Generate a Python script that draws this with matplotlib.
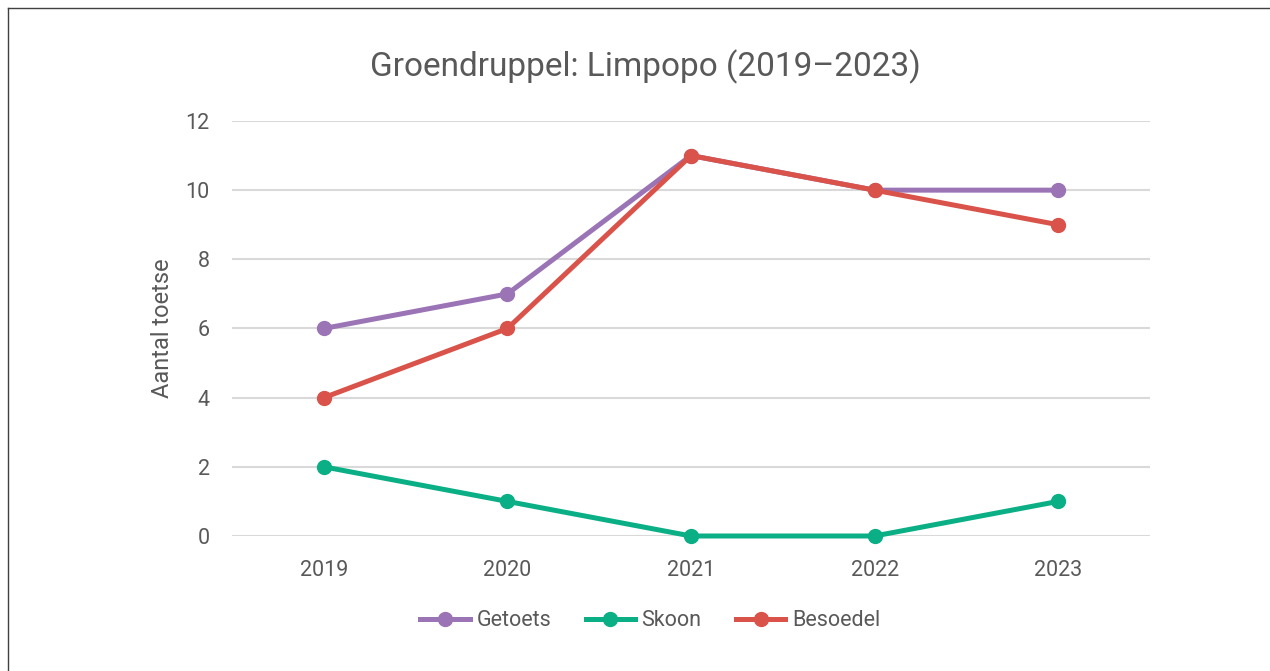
import matplotlib.pyplot as plt
from matplotlib.lines import Line2D

plt.rcParams['font.family'] = ['Roboto', 'DejaVu Sans']

years = ['2019', '2020', '2021', '2022', '2023']
getoets = [6, 7, 11, 10, 10]
skoon = [2, 1, 0, 0, 1]
besoedel = [4, 6, 11, 10, 9]

series = [
    ('Getoets', getoets, '#9B74B6'),
    ('Skoon', skoon, '#0BAF86'),
    ('Besoedel', besoedel, '#D9534A'),
]

text_color = '#595959'

fig = plt.figure(figsize=(12.7, 6.71), dpi=100)
ax = fig.add_axes([0.1827, 0.2012, 0.7228, 0.6185])

x = range(len(years))
for name, vals, color in series:
    ax.plot(x, vals, color=color, lw=3.6, marker='o', markersize=10,
            label=name, solid_capstyle='round', clip_on=False, zorder=3)

ax.set_xlim(-0.5, 4.5)
ax.set_ylim(0, 12)
ax.set_yticks(range(0, 13, 2))
ax.set_xticks(list(x))
ax.set_xticklabels(years)
ax.tick_params(length=0, labelsize=15.5, colors=text_color)
ax.tick_params(axis='x', pad=17)
ax.tick_params(axis='y', pad=16)
ax.grid(axis='y', color='#D9D9D9', lw=1.5)
ax.set_axisbelow(True)
for s in ax.spines.values():
    s.set_visible(False)

ax.set_ylabel('Aantal toetse', fontsize=17, color=text_color, labelpad=8)
fig.text(0.508, 0.9, 'Groendruppel: Limpopo (2019–2023)', ha='center',
         va='center', fontsize=24, color=text_color)

handles = [Line2D([], [], color=c, lw=3.6, marker='o', markersize=10)
           for _, _, c in series]
fig.legend(handles, [n for n, _, _ in series], loc='center',
           bbox_to_anchor=(0.512, 0.075), ncol=3, frameon=False,
           fontsize=15.5, labelcolor=text_color, handlelength=2.3,
           columnspacing=1.6, handletextpad=0.3)

# figure frame: top and left edges
fig.add_artist(Line2D([0.0063, 0.0063], [0, 0.988], color='#404040', lw=1))
fig.add_artist(Line2D([0.0063, 1], [0.988, 0.988], color='#404040', lw=1))

fig.savefig('out.png', dpi=100)
